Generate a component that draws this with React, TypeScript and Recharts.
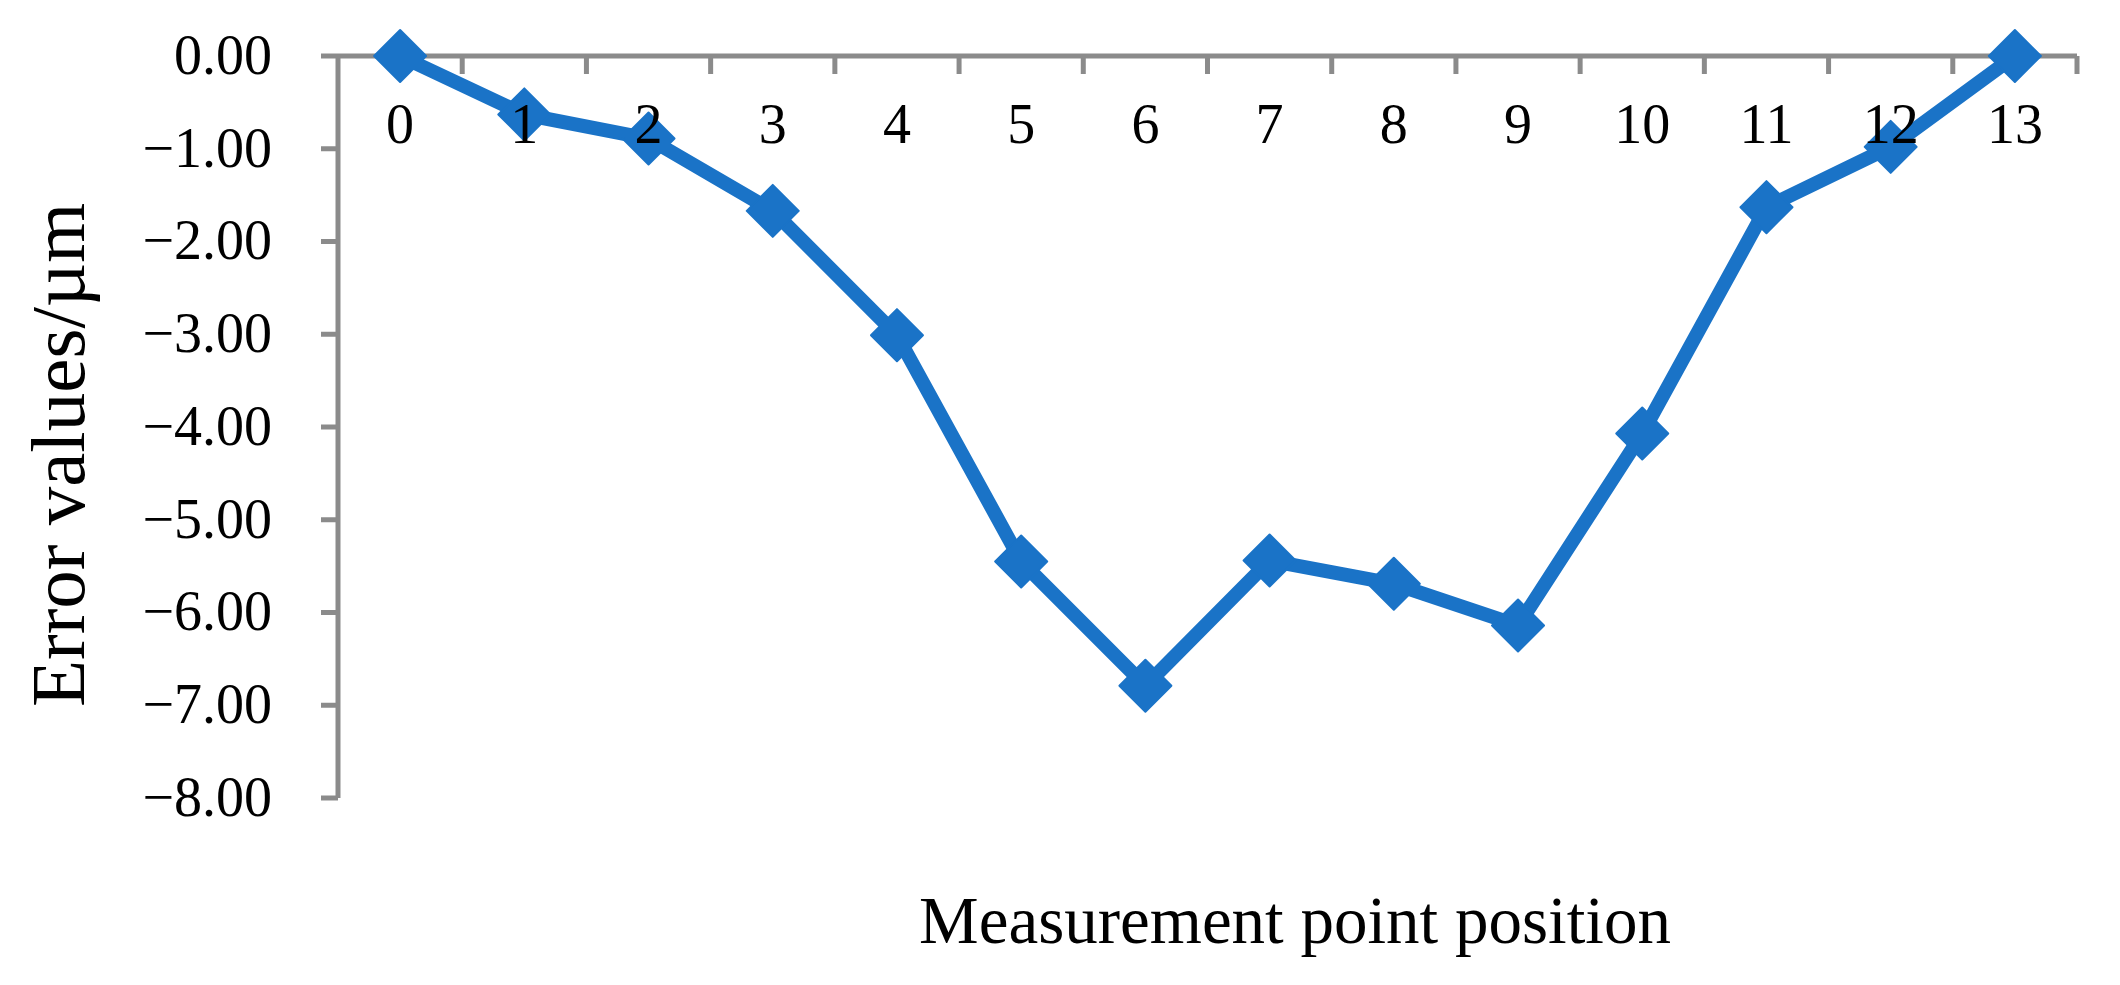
import React from 'react';
import { LineChart, Line, XAxis, YAxis, Label } from 'recharts';

// values
const positions = ['0', '1', '2', '3', '4', '5', '6', '7', '8', '9', '10', '11', '12', '13'];
const errors = [0, -0.63, -0.89, -1.67, -3.01, -5.45, -6.79, -5.44, -5.69, -6.14, -4.07, -1.63, -0.98, 0];
const yTicks = [0, -1, -2, -3, -4, -5, -6, -7, -8];

const data = positions.map((p, i) => ({ pos: p, err: errors[i] }));

const W = 2120;
const H = 985;
const MARGIN = { top: 56, right: 43, bottom: 187, left: 0 };
const Y_AXIS_W = 338;
const HALF_BAND = (W - Y_AXIS_W - MARGIN.right) / positions.length / 2;

const BLUE = '#1a73c7';
const GREY = '#8b8b8b';
const FONT = "'Times New Roman', 'Liberation Serif', serif";

const fmt = (v: number) => (v === 0 ? '0.00' : '\u2212' + Math.abs(v).toFixed(2));

const Diamond = (props: any) => {
  const { cx, cy } = props;
  if (cx == null || cy == null) return null;
  const r = 26;
  return (
    <path
      d={`M${cx},${cy - r}L${cx + r},${cy}L${cx},${cy + r}L${cx - r},${cy}Z`}
      fill={BLUE}
      stroke={BLUE}
      strokeWidth={2}
      strokeLinejoin="round"
    />
  );
};

// category label below the top axis, tick mark between categories (Excel style)
const XTick = (props: any) => {
  const { x, payload } = props;
  const top = MARGIN.top;
  return (
    <g>
      <line x1={x + HALF_BAND} y1={top} x2={x + HALF_BAND} y2={top + 18} stroke={GREY} strokeWidth={5} />
      <text x={x} y={top + 87} textAnchor="middle" fill="#000" fontSize={56} fontFamily={FONT}>
        {payload.value}
      </text>
    </g>
  );
};

export default function App() {
  return (
    <div style={{ position: 'absolute', left: 0, top: 0, width: W, height: H, background: '#fff' }}>
      <LineChart width={W} height={H} data={data} margin={MARGIN}>
        <XAxis
          dataKey="pos"
          orientation="top"
          mirror
          interval={0}
          padding={{ left: HALF_BAND, right: HALF_BAND }}
          axisLine={{ stroke: GREY, strokeWidth: 5 }}
          tickLine={false}
          tickSize={18}
          tick={<XTick />}
        >
          <Label
            content={() => (
              <text x={1295} y={943} textAnchor="middle" fill="#000" fontSize={67} fontFamily={FONT}>
                Measurement point position
              </text>
            )}
          />
        </XAxis>
        <YAxis
          width={Y_AXIS_W}
          domain={[-8, 0]}
          ticks={yTicks}
          interval={0}
          tickFormatter={fmt}
          axisLine={{ stroke: GREY, strokeWidth: 5 }}
          tickLine={{ stroke: GREY, strokeWidth: 5 }}
          tickSize={17}
          tickMargin={49}
          tick={{ fill: '#000', fontSize: 56, fontFamily: FONT, dy: -2 }}
        >
          <Label
            content={() => (
              <text
                x={84}
                y={455}
                transform="rotate(-90 84 455)"
                textAnchor="middle"
                fill="#000"
                fontSize={77}
                fontFamily={FONT}
              >
                Error values/µm
              </text>
            )}
          />
        </YAxis>
        <Line
          type="linear"
          dataKey="err"
          stroke={BLUE}
          strokeWidth={14}
          dot={(p: any) => <Diamond key={p.index} {...p} />}
          activeDot={false}
          isAnimationActive={false}
        />
      </LineChart>
    </div>
  );
}
